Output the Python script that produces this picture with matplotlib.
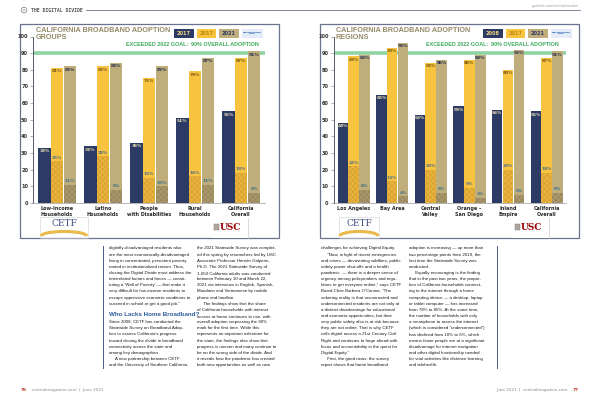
import numpy as np
import matplotlib.pyplot as plt
from matplotlib.patches import Rectangle, Circle, Arc

# ---- data ----
groups = ["Low-Income\nHouseholds", "Latino\nHouseholds", "People\nwith Disabilities",
          "Rural\nHouseholds", "California\nOverall"]
g_2008 = [33, 34, 36, 51, 55]
g_2017 = [81, 82, 75, 79, 87]
g_2021 = [82, 84, 82, 87, 91]
g_sp2017 = [25, 28, 15, 16, 18]
g_sp2021 = [11, 8, 10, 11, 6]

regions = ["Los Angeles", "Bay Area", "Central\nValley", "Orange –\nSan Diego",
           "Inland\nEmpire", "California\nOverall"]
r_2008 = [48, 65, 53, 58, 56, 55]
r_2017 = [88, 93, 84, 86, 80, 87]
r_2021 = [89, 96, 86, 89, 92, 91]
r_sp2017 = [22, 13, 20, 9, 20, 18]
r_sp2021 = [8, 4, 6, 3, 5, 6]

left_legend = ["2017", "2017", "2021"]
right_legend = ["2008", "2017", "2021"]

col_l1 = ["digitally-disadvantaged residents also",
          "are the most economically-disadvantaged",
          "living in concentrated, persistent poverty",
          "rooted in institutionalized racism. Thus,",
          "closing the Digital Divide must address the",
          "interrelated factors and forces — consti-",
          "tuting a 'Wall of Poverty' — that make it",
          "very difficult for low-income residents to",
          "escape oppressive economic conditions to",
          "succeed in school or get a good job.\""]
col_l1b = ["Since 2008, CETF has conducted the",
           "Statewide Survey on Broadband Adop-",
           "tion to assess California's progress",
           "toward closing the divide in broadband",
           "connectivity across the state and",
           "among key demographics.",
           "     A new partnership between CETF",
           "and the University of Southern California,"]
col_l2 = ["the 2021 Statewide Survey was complet-",
          "ed this spring by researchers led by USC",
          "Associate Professor Hernán Galperin,",
          "Ph.D. The 2021 Statewide Survey of",
          "1,650 California adults was conducted",
          "between February 10 and March 22,",
          "2021 via interviews in English, Spanish,",
          "Mandarin and Vietnamese by mobile",
          "phone and landline.",
          "     The findings show that the share",
          "of California households with internet",
          "access at home continues to rise, with",
          "overall adoption surpassing the 90%",
          "mark for the first time. While this",
          "represents an important milestone for",
          "the state, the findings also show that",
          "progress is uneven and many continue to",
          "be on the wrong side of the divide. And",
          "it reveals how the pandemic has created",
          "both new opportunities as well as new"]
col_r1 = ["challenges for achieving Digital Equity.",
          "     \"Now, in light of recent emergencies",
          "and crises — devastating wildfires, public",
          "safety power shut-offs and a health",
          "pandemic  — there is a deeper sense of",
          "urgency among policymakers and regu-",
          "lators to get everyone online,\" says CETF",
          "Board Chair Barbara O'Connor. \"The",
          "sobering reality is that unconnected and",
          "underconnected residents are not only at",
          "a distinct disadvantage for educational",
          "and economic opportunities, but their",
          "very public safety also is at risk because",
          "they are not online. That is why CETF",
          "calls digital access a 21st Century Civil",
          "Right and continues to forge ahead with",
          "focus and accountability in the quest for",
          "Digital Equity.\"",
          "     First, the good news: the survey",
          "report shows that home broadband"]
col_r2 = ["adoption is increasing — up more than",
          "two percentage points from 2019, the",
          "last time the Statewide Survey was",
          "conducted.",
          "     Equally encouraging is the finding",
          "that in the past two years, the propor-",
          "tion of California households connect-",
          "ing to the internet through a home",
          "computing device — a desktop, laptop",
          "or tablet computer — has increased",
          "from 78% to 85%. At the same time,",
          "the number of households with only",
          "a smartphone to access the internet",
          "(which is considered \"underconnected\")",
          "has declined from 10% to 6%, which",
          "means fewer people are at a significant",
          "disadvantage for internet navigation",
          "and other digital functionality needed",
          "for vital activities like distance learning",
          "and telehealth."]

NAVY = '#2c3a66'
YEL = '#f8c43f'
TAN = '#bfad7b'
YEL_H = '#e8b23c'
TAN_H = '#a8976a'
GREEN = '#8fd3a2'
BORDER = '#6b7290'

plt.rcParams['hatch.linewidth'] = 0.35
W, H = 600, 401
fig = plt.figure(figsize=(6, 4.01), dpi=100)
fig.patch.set_facecolor('white')

ov = fig.add_axes([0, 0, 1, 1])
ov.set_xlim(0, W)
ov.set_ylim(H, 0)
ov.axis('off')

body_font = ['Liberation Sans', 'DejaVu Sans']


def chart(x0, labels, v08, v17, v21, sp17, sp21, title2, leg, ax_left, ax_right, spacing, c0, leg_x):
    # frame
    ov.add_patch(Rectangle((x0, 23.5), 259, 214.5, fill=False, ec=BORDER, lw=0.9))
    ov.text(x0 + 16, 27, "CALIFORNIA BROADBAND ADOPTION\n" + title2, fontsize=5.2,
            fontweight='bold', color='#948a68', va='top', ha='left', linespacing=0.95,
            family=['Liberation Sans', 'DejaVu Sans'])
    ov.text(x0 + 239, 44.5, "EXCEEDED 2022 GOAL:  90% OVERALL ADOPTION", fontsize=3.9,
            fontweight='bold', color='#3daa5c', ha='right', va='center',
            family=['Liberation Sans', 'DejaVu Sans'])
    # legend boxes
    cols = [NAVY, YEL, TAN]
    tcols = ['#f2d37c', '#b8860b', '#2c3a66']
    for i, (lab, c, tc) in enumerate(zip(leg, cols, tcols)):
        lx = leg_x + i * 22.5
        ov.add_patch(Rectangle((lx, 29), 19.5, 8.5, fc=c, ec='none'))
        ov.text(lx + 9.75, 33.3, lab, fontsize=3.6, fontweight='bold', color=tc,
                ha='center', va='center')
    lx = leg_x + 3 * 22.5
    ov.add_patch(Rectangle((lx, 29), 21, 8.5, fc='#e4edf7', ec='none'))
    ov.text(lx + 10.5, 33.3, "SMARTPHONE\nONLY", fontsize=1.7, fontweight='bold',
            color='#2f62b0', ha='center', va='center', linespacing=1.0)

    # chart axes
    n = len(labels)
    left_edge = (ax_left - c0) / spacing
    right_edge = (ax_right - c0) / spacing
    ax = fig.add_axes([ax_left / W, 1 - 203 / H, (ax_right - ax_left) / W, (203 - 36.5) / H])
    ax.patch.set_alpha(0)
    ax.set_xlim(left_edge, right_edge)
    ax.set_ylim(0, 100)
    x = np.arange(n)
    bw = 0.27
    ax.axhline(90, color=GREEN, lw=2.6, zorder=1)
    ax.bar(x - 0.275, v08, bw, color=NAVY, zorder=2)
    ax.bar(x, v17, bw, color=YEL, zorder=2)
    ax.bar(x + 0.285, v21, bw, color=TAN, zorder=2)
    ax.bar(x, sp17, bw, color=YEL_H, edgecolor='#cf9a2c', lw=0, hatch='xxxxxx', zorder=3)
    ax.bar(x + 0.285, sp21, bw, color=TAN_H, edgecolor='#8e7e56', lw=0, hatch='xxxxxx', zorder=3)
    lab_kw = dict(fontsize=3.2, fontweight='bold', ha='center', va='top', zorder=5)
    for i in range(n):
        ax.text(x[i] - 0.275, v08[i] - 0.8, f"{v08[i]}%", color='#e8dcb0', **lab_kw)
        ax.text(x[i], v17[i] - 0.8, f"{v17[i]}%", color='#7a5a14', **lab_kw)
        ax.text(x[i] + 0.285, v21[i] - 0.8, f"{v21[i]}%", color='#26304f', **lab_kw)
        ax.text(x[i], sp17[i] + 3.5, f"{sp17[i]}%", color='#4f6f8c', **lab_kw)
        ax.text(x[i] + 0.285, sp21[i] + 3.5, f"{sp21[i]}%", color='#3f7388', **lab_kw)
    for s in ['top', 'right']:
        ax.spines[s].set_visible(False)
    ax.spines['left'].set_color('#555a6a')
    ax.spines['left'].set_linewidth(0.7)
    ax.spines['bottom'].set_color('#9a9a9a')
    ax.spines['bottom'].set_linewidth(0.5)
    ax.set_yticks(range(0, 101, 10))
    ax.tick_params(axis='y', labelsize=3.6, length=2, width=0.4, color='#777', pad=1.5,
                   labelcolor='#333')
    for t in ax.get_yticklabels():
        t.set_fontweight('bold')
    ax.set_xticks(x)
    ax.set_xticklabels(labels, fontsize=3.5, fontweight='bold', color='#2a2a2a',
                       linespacing=1.3)
    ax.tick_params(axis='x', length=0, pad=2)
    return ax


chart(20, groups, g_2008, g_2017, g_2021, g_sp2017, g_sp2021, "GROUPS", left_legend,
      33, 265, 46.0, 57.0, 174)
chart(320, regions, r_2008, r_2017, r_2021, r_sp2017, r_sp2021, "REGIONS", right_legend,
      333.5, 566, 38.6, 353.5, 483)


# logos
def cetf(x, w):
    ov.add_patch(Rectangle((x, 217), w, 20.5, fill=False, ec='#d0d0d0', lw=0.4))
    ov.text(x + w / 2, 224, "CETF", fontsize=6.5, family='DejaVu Serif', color='#3e4d7d',
            ha='center', va='center')
    ov.add_patch(Arc((x + w / 2, 236), w * 0.95, 9, theta1=180, theta2=360,
                     ec='#e9b949', lw=2.2))


def usc(x):
    ov.add_patch(Rectangle((x - 2, 218), 36, 20, fc='white', ec='none'))
    ov.plot([x + 34, x + 34], [218, 238], color='#cccccc', lw=0.5)
    ov.add_patch(Rectangle((x, 223.5), 4.5, 6, fc='#b0a8a0', ec='#7a7068', lw=0.3))
    ov.text(x + 5.5, 227.5, "USC", fontsize=6.5, family='DejaVu Serif', color='#990000',
            ha='left', va='center', fontweight='bold')


cetf(40, 48)
usc(214)
cetf(339, 40)
usc(515)

# header / footer
ov.add_patch(Circle((24, 10), 2.8, fill=False, ec='#777', lw=0.5))
ov.add_patch(Circle((24, 10), 0.8, fc='#777', ec='none'))
ov.text(31, 10, "THE DIGITAL DIVIDE", fontsize=3.4, family='DejaVu Sans Mono',
        fontweight='bold', color='#555', va='center', ha='left')
ov.plot([86, 580], [10, 10], color='#6b7290', lw=0.6)
ov.text(579, 6.5, "govtech.com/central/section", fontsize=2.4, color='#999',
        ha='right', va='center')
ov.text(21, 390, "76", fontsize=3.2, color='#c0392b', fontweight='bold', va='center')
ov.text(32, 390, "centralmagazine.com  |  June 2021", fontsize=3.0, color='#888',
        va='center')
ov.text(579, 390, "77", fontsize=3.2, color='#c0392b', fontweight='bold', va='center',
        ha='right')
ov.text(568, 390, "June 2021  |  centralmagazine.com", fontsize=3.0, color='#888',
        va='center', ha='right')

# body columns
sp = 6.14
col_texts = []


def column(lines, x, y0):
    tl = []
    for i, ln in enumerate(lines):
        tl.append(ov.text(x, y0 + i * sp, ln, fontsize=3.9, family=body_font, color='#1a1a1a',
                          va='center', ha='left'))
    col_texts.append(tl)


ov.plot([103, 103], [246, 368], color='#4a5a8a', lw=0.7)
ov.plot([497, 497], [246, 368], color='#4a5a8a', lw=0.7)
column(col_l1 + [""] + col_l1b, 109, 248.5)
ov.text(109, 315, "Who Lacks Home Broadband?", fontsize=4.5, fontweight='bold',
        color='#2e5c9e', va='center', ha='left', family=['Liberation Sans', 'DejaVu Sans'])
column(col_l2, 197, 248.5)
column(col_r1, 321, 248.5)
column(col_r2, 409, 248.5)

# fit the body text into the 83 px column width
fig.canvas.draw()
rend = fig.canvas.get_renderer()
widest = max(t.get_window_extent(rend).width for tl in col_texts for t in tl)
fs = 3.9 * 83.0 / widest
for tl in col_texts:
    for t in tl:
        t.set_fontsize(fs)
# second block of the first column sits a little lower under the heading
for i, t in enumerate(col_texts[0][11:]):
    t.set_y(322 + i * 6.2)

fig.savefig('out.png', dpi=100)
